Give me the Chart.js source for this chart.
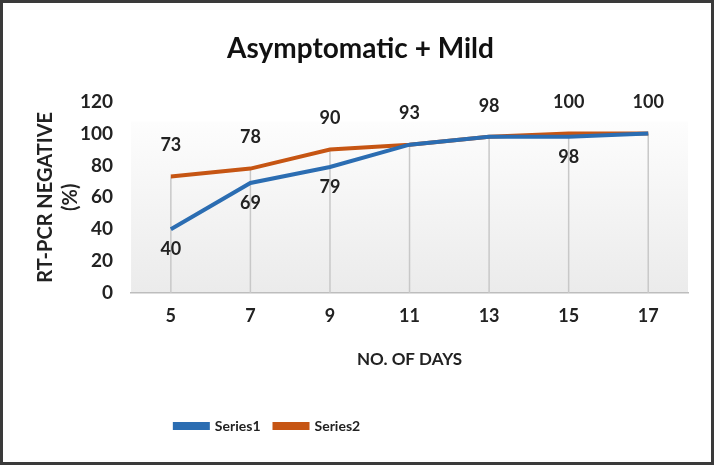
<!DOCTYPE html>
<html>
<head>
<meta charset="utf-8">
<script src="https://cdn.jsdelivr.net/npm/chart.js@4"></script>
<style>
  html, body { margin: 0; padding: 0; background: #fff; }
  #wrap {
    width: 714px; height: 465px; box-sizing: border-box;
    border: 3px solid #3a3a3a; background: #fff;
  }
</style>
</head>
<body>
<div id="wrap"><canvas id="chart" width="708" height="459"></canvas></div>
<script>
// data
const days = ['5', '7', '9', '11', '13', '15', '17'];
const series1 = [40, 69, 79, 93, 98, 98, 100];
const series2 = [73, 78, 90, 93, 98, 100, 100];
const yTicks = [0, 20, 40, 60, 80, 100, 120];

const FONT = 'Lato, "Open Sans", sans-serif';

// light gradient behind the plot
const plotBackground = {
  id: 'plotBackground',
  beforeDraw(chart) {
    const { ctx, chartArea: a } = chart;
    const g = ctx.createLinearGradient(0, a.top, 0, a.bottom);
    g.addColorStop(0, '#ffffff');
    g.addColorStop(1, '#ebebeb');
    ctx.save();
    ctx.fillStyle = g;
    ctx.fillRect(a.left, a.top + 20, a.right - a.left, a.bottom - a.top - 20);
    ctx.restore();
  }
};

// drop lines from the highest point down to the axis
const dropLines = {
  id: 'dropLines',
  beforeDatasetsDraw(chart) {
    const { ctx, scales: { x, y } } = chart;
    ctx.save();
    ctx.strokeStyle = '#c8c8c8';
    ctx.lineWidth = 1.5;
    days.forEach((d, i) => {
      const px = x.getPixelForValue(i);
      const top = y.getPixelForValue(Math.max(series1[i], series2[i]));
      ctx.beginPath();
      ctx.moveTo(px, top);
      ctx.lineTo(px, y.getPixelForValue(0));
      ctx.stroke();
    });
    ctx.restore();
  }
};

// value labels: Series2 above, Series1 below where it differs
const valueLabels = {
  id: 'valueLabels',
  afterDatasetsDraw(chart) {
    const { ctx, scales: { x, y } } = chart;
    ctx.save();
    ctx.font = 'bold 18px ' + FONT;
    ctx.fillStyle = '#222';
    ctx.textAlign = 'center';
    ctx.textBaseline = 'middle';
    days.forEach((d, i) => {
      const px = x.getPixelForValue(i);
      ctx.fillText(series2[i], px, y.getPixelForValue(series2[i]) - 31);
      if (series1[i] !== series2[i]) {
        ctx.fillText(series1[i], px, y.getPixelForValue(series1[i]) + 20);
      }
    });
    ctx.restore();
  }
};

// the legend sits left of centre in the original
const legendShift = {
  id: 'legendShift',
  afterLayout(chart) {
    chart.legend.left -= 93;
    chart.legend.right -= 93;
  }
};

new Chart(document.getElementById('chart'), {
  type: 'line',
  data: {
    labels: days,
    datasets: [
      {
        label: 'Series1',
        data: series1,
        borderColor: '#2b6db2',
        backgroundColor: '#2b6db2',
        borderWidth: 4,
        pointRadius: 0,
        tension: 0
      },
      {
        label: 'Series2',
        data: series2,
        borderColor: '#c65513',
        backgroundColor: '#c65513',
        borderWidth: 4,
        pointRadius: 0,
        tension: 0
      }
    ]
  },
  options: {
    responsive: false,
    animation: false,
    layout: { padding: { left: 30, right: 23, top: 29, bottom: 19 } },
    plugins: {
      title: {
        display: true,
        text: 'Asymptomatic + Mild',
        color: '#111',
        font: { family: FONT, size: 28, weight: 'bold' },
        padding: { top: 0, bottom: 36 }
      },
      legend: {
        position: 'bottom',
        labels: {
          boxWidth: 33,
          boxHeight: 4,
          padding: 14,
          color: '#222',
          font: { family: FONT, size: 14, weight: 'bold' }
        }
      },
      tooltip: { enabled: false }
    },
    scales: {
      x: {
        offset: true,
        grid: { display: false, drawTicks: false },
        border: { color: '#bdbdbd', width: 1.5 },
        ticks: {
          color: '#222',
          padding: 12,
          font: { family: FONT, size: 18, weight: 'bold' }
        },
        title: {
          display: true,
          text: 'NO. OF DAYS',
          color: '#222',
          font: { family: FONT, size: 17, weight: 'bold' },
          padding: { top: 11, bottom: 35 }
        }
      },
      y: {
        min: 0,
        max: 120,
        afterBuildTicks(axis) { axis.ticks = yTicks.map(v => ({ value: v })); },
        afterFit(axis) { axis.width -= 21; },
        grid: { display: false, drawTicks: false },
        border: { display: false },
        ticks: {
          color: '#222',
          padding: 18,
          font: { family: FONT, size: 19, weight: 'bold' }
        },
        title: {
          display: true,
          text: ['RT-PCR NEGATIVE', '(%)'],
          color: '#222',
          font: { family: FONT, size: 20, weight: 'bold', lineHeight: 1.25 },
          padding: { top: 0, bottom: 0 }
        }
      }
    }
  },
  plugins: [plotBackground, dropLines, valueLabels, legendShift]
});
</script>
</body>
</html>
